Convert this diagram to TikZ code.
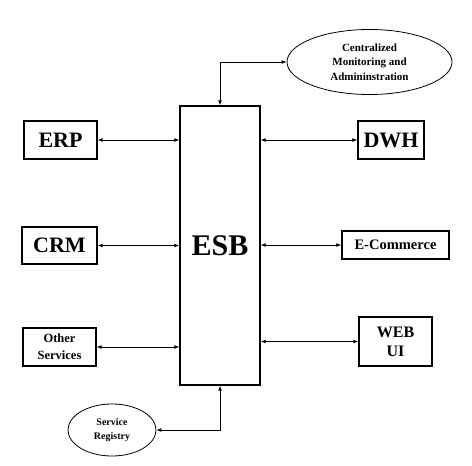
\documentclass[tikz,border=0pt]{standalone}
\usepackage{fontspec}
\setmainfont{Liberation Serif}
\usetikzlibrary{shapes,positioning,arrows.meta,calc}

\begin{document}
\begin{tikzpicture}[x=1pt,y=-1pt,
            sys/.style={
                rectangle, draw, line width=1.3pt, inner sep=0pt, align=center, font=\bfseries},
            cloud/.style={ellipse, draw, line width=0.8pt, inner sep=0pt, align=center},
            link/.style={{Latex[length=5pt,width=4pt]}-{Latex[length=5pt,width=4pt]}, line width=0.9pt}]

            \useasboundingbox (0,0) rectangle (472,466);

            \node [sys,minimum width=80pt,minimum height=279pt,
                font=\bfseries\fontsize{30}{30}\selectfont] (esb) at (220,245.5) {ESB};

            \node [sys,minimum width=73pt,minimum height=38pt,
                font=\bfseries\fontsize{22}{22}\selectfont] (erp) at (60.5,140) {ERP};
            \node [sys,minimum width=75pt,minimum height=37pt,
                font=\bfseries\fontsize{22}{22}\selectfont] (crm) at (59.5,245.5) {CRM};
            \node [sys,minimum width=73pt,minimum height=38pt,
                font=\bfseries\fontsize{12.5}{17}\selectfont] (other) at (59.5,347) {Other\\Services};

            \node [sys,minimum width=66pt,minimum height=38pt,
                font=\bfseries\fontsize{22}{22}\selectfont] (dwh) at (391,140) {DWH};
            \node [sys,minimum width=107pt,minimum height=28pt,
                font=\bfseries\fontsize{14.5}{14.5}\selectfont] (ecom) at (395.5,245) {E-Commerce};
            \node [sys,minimum width=73pt,minimum height=49pt,
                font=\bfseries\fontsize{16}{19}\selectfont] (web) at (395.5,341.5) {WEB\\UI};

            \node [cloud,minimum width=165pt,minimum height=65pt,
                font=\bfseries\fontsize{11}{14.5}\selectfont] (mon) at (369.5,62) {Centralized\\Monitoring and\\Admininstration};
            \node [cloud,minimum width=88pt,minimum height=52pt,
                font=\bfseries\fontsize{10}{14.5}\selectfont] (reg) at (112,430) {Service\\Registry};

            \draw [link] (erp.east) -- (erp.east -| esb.west);
            \draw [link] (crm.east) -- (crm.east -| esb.west);
            \draw [link] (other.east) -- (other.east -| esb.west);
            \draw [link] (esb.east |- dwh.west) -- (dwh.west);
            \draw [link] (esb.east |- ecom.west) -- (ecom.west);
            \draw [link] (esb.east |- web.west) -- (web.west);

            \draw [link] (mon.west) -| (esb.north);
            \draw [link] (reg.east) -| (esb.south);

        \end{tikzpicture}
\end{document}
